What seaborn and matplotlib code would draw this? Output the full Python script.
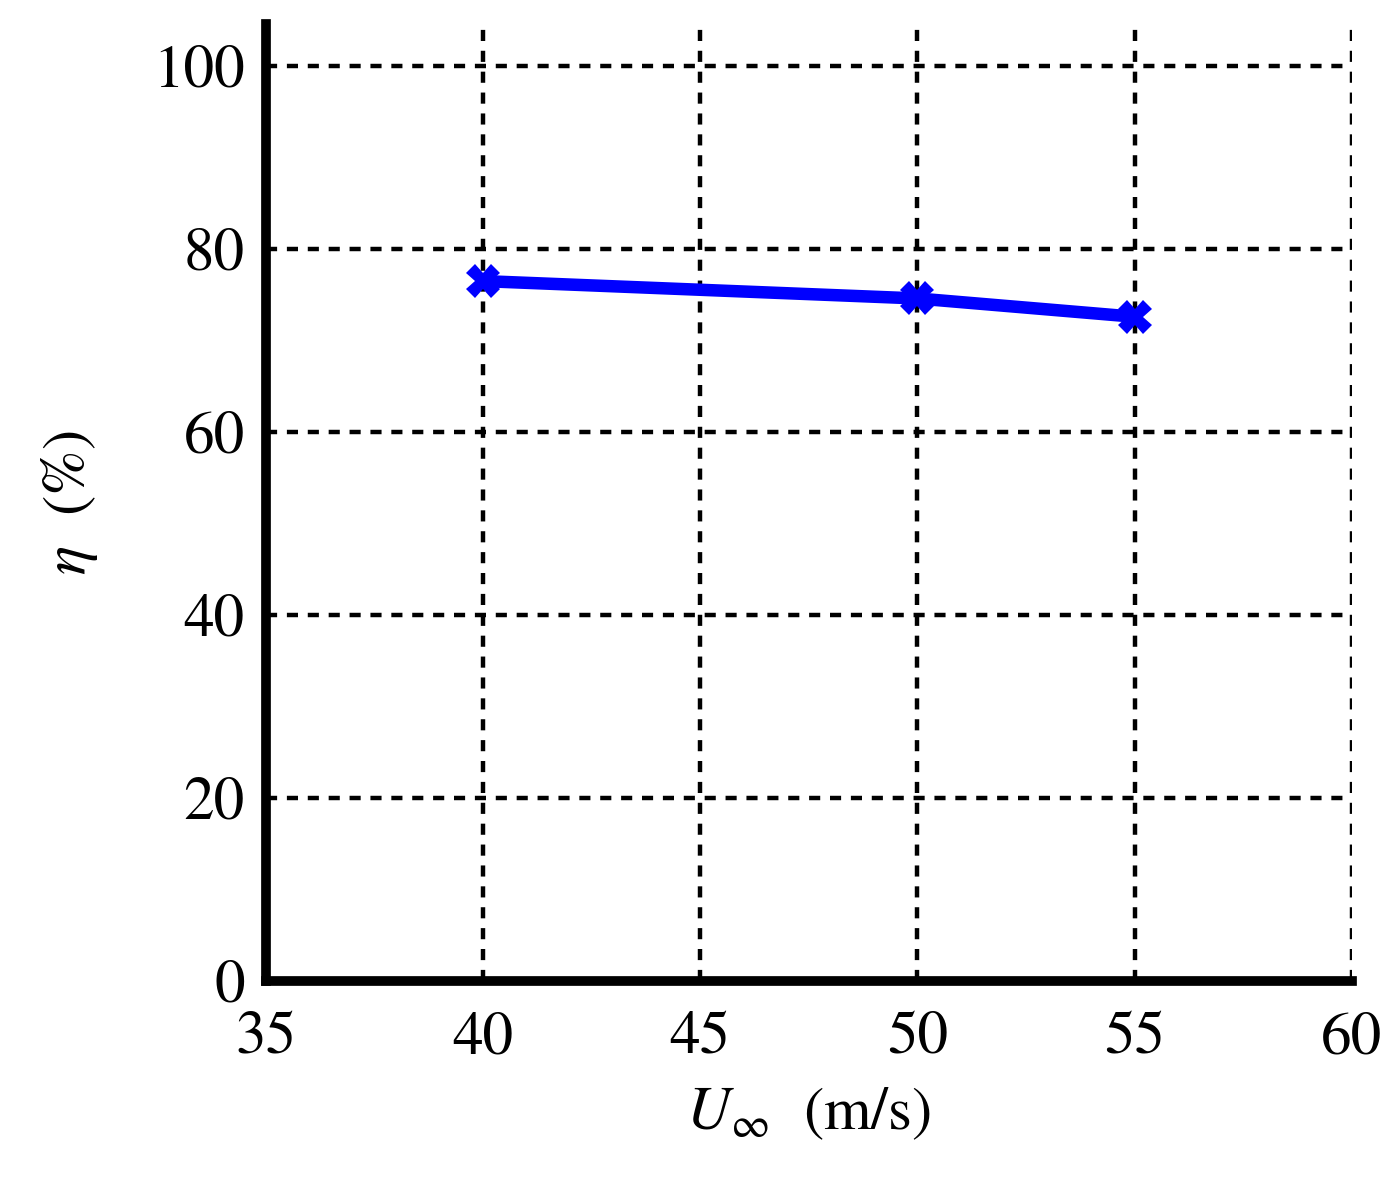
import matplotlib
matplotlib.use("Agg")
import matplotlib.pyplot as plt
import seaborn as sns
import pandas as pd

speed = [40, 50, 55]
efficiency = [76.5, 74.6, 72.6]
x_ticks = [35, 40, 45, 50, 55, 60]
y_ticks = [0, 20, 40, 60, 80, 100]

sns.set_style("white")
plt.rcParams['font.family'] = ['STIXGeneral', 'DejaVu Serif']
plt.rcParams['mathtext.fontset'] = 'stix'
plt.rcParams['text.color'] = 'black'
plt.rcParams['axes.labelcolor'] = 'black'

df = pd.DataFrame({"U": speed, "eta": efficiency})

fig = plt.figure(figsize=(13.98, 11.93), dpi=100)
ax = fig.add_axes([0.190, 0.1777, 0.777, 0.8022])

sns.lineplot(data=df, x="U", y="eta", ax=ax, color="#0000ff", linewidth=9,
             marker="X", markersize=24, markeredgewidth=0, zorder=5)

ax.set_xlim(35, 60)
ax.set_ylim(0, 104.6)
ax.set_xticks(x_ticks)
ax.set_yticks(y_ticks)
ax.set_xticklabels([str(v) for v in x_ticks], fontsize=44)
ax.set_yticklabels([str(v) for v in y_ticks], fontsize=44)

ax.grid(True, color="black", linestyle=(0, (2.5, 2.2)), linewidth=3.2)
ax.set_axisbelow(True)

for s in ["top", "right"]:
    ax.spines[s].set_visible(False)
for s in ["left", "bottom"]:
    ax.spines[s].set_linewidth(7)
    ax.spines[s].set_color("black")

ax.tick_params(axis="both", direction="in", length=8, width=5, colors="black")
ax.tick_params(axis="x", pad=22)
ax.tick_params(axis="y", pad=15)

ax.set_xlabel(r"$U_{\infty}$  (m/s)", fontsize=44, labelpad=14, color="black")
ax.set_ylabel(r"$\eta$  (%)", fontsize=44, labelpad=38, color="black")

fig.savefig("out.png", dpi=100)
